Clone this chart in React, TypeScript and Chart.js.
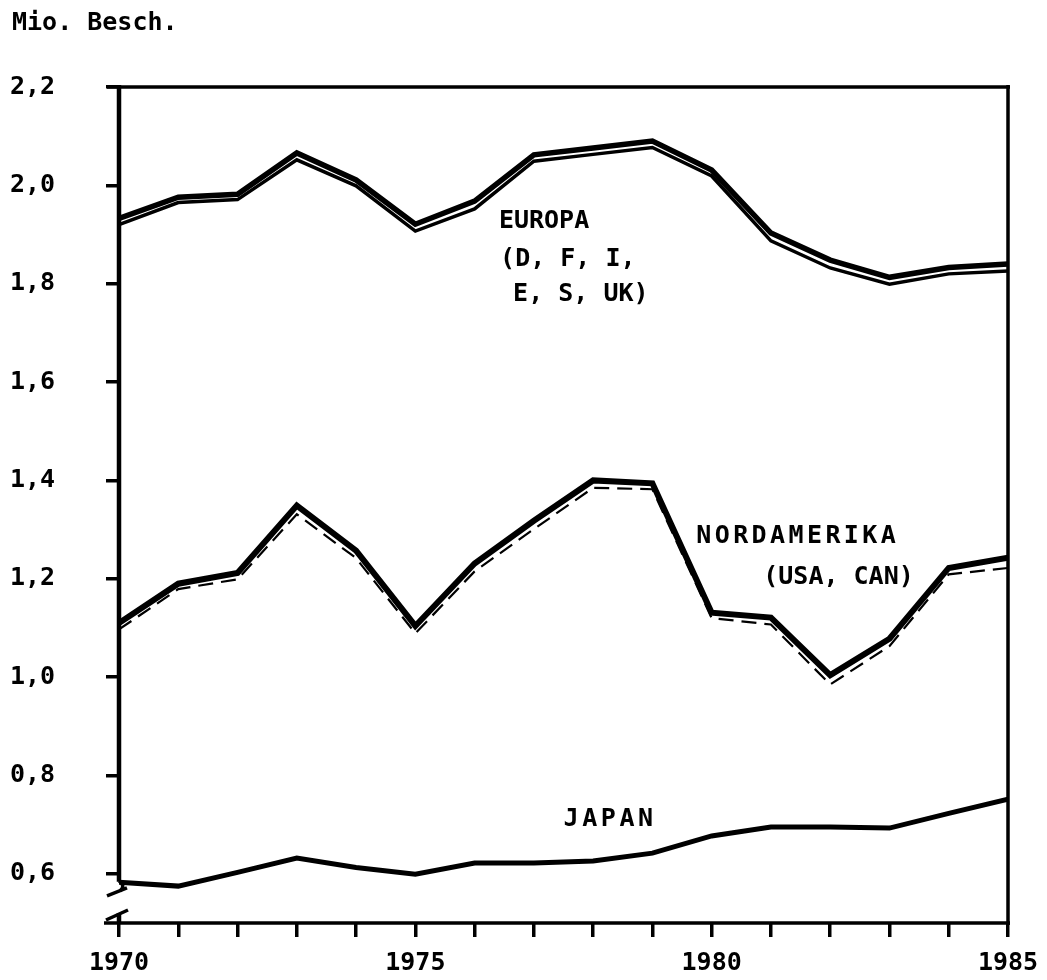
import React, { useEffect, useRef } from "react";
import { Chart, registerables } from "chart.js";

Chart.register(...registerables);

// ---- data ----
const years = [1970, 1971, 1972, 1973, 1974, 1975, 1976, 1977, 1978, 1979, 1980, 1981, 1982, 1983, 1984, 1985];
const europaUpper = [1.933, 1.976, 1.982, 2.066, 2.011, 1.921, 1.968, 2.062, 2.076, 2.09, 2.031, 1.903, 1.848, 1.813, 1.833, 1.84];
const europaLower = [1.92, 1.965, 1.971, 2.052, 1.999, 1.907, 1.952, 2.049, 2.063, 2.077, 2.019, 1.887, 1.832, 1.799, 1.82, 1.826];
const nordamerikaSolid = [1.11, 1.19, 1.212, 1.349, 1.257, 1.104, 1.231, 1.318, 1.4, 1.394, 1.131, 1.121, 1.004, 1.078, 1.222, 1.243];
const nordamerikaDashed = [1.097, 1.179, 1.199, 1.331, 1.242, 1.089, 1.215, 1.301, 1.385, 1.382, 1.12, 1.107, 0.985, 1.063, 1.209, 1.222];
const japan = [0.583, 0.575, 0.603, 0.632, 0.613, 0.599, 0.622, 0.622, 0.626, 0.642, 0.677, 0.695, 0.695, 0.693, 0.723, 0.752];

const yTickValues = [0.6, 0.8, 1.0, 1.2, 1.4, 1.6, 1.8, 2.0, 2.2];
const xLabelYears = [1970, 1975, 1980, 1985];
const yMin = 0.5;
const yMax = 2.2;
const yAxisTitle = "Mio. Besch.";

// text annotations: text, year of left edge, value at baseline, letter spacing
const annotationTexts = ["EUROPA", "(D, F, I,", "E, S, UK)", "NORDAMERIKA", "(USA, CAN)", "JAPAN"];
const annotationYears = [1976.41, 1976.43, 1976.65, 1979.74, 1980.87, 1977.5];
const annotationValues = [1.914, 1.836, 1.765, 1.272, 1.19, 0.697];
const annotationSpacing = [0, 0, 0, 3.4, 0, 3.6];

const FONT = "'DejaVu Sans Mono', 'Liberation Mono', monospace";

const toPts = (vals: number[]) => years.map((x, i) => ({ x, y: vals[i] }));

const decorPlugin = {
  id: "decor",
  afterDraw(chart: any) {
    const { ctx, chartArea } = chart;
    const { left, right, top, bottom } = chartArea;
    const xs = chart.scales.x;
    const ys = chart.scales.y;
    const line = (x1: number, y1: number, x2: number, y2: number) => {
      ctx.beginPath();
      ctx.moveTo(x1, y1);
      ctx.lineTo(x2, y2);
      ctx.stroke();
    };
    ctx.save();
    ctx.strokeStyle = "#000";
    ctx.lineCap = "butt";
    // frame
    ctx.lineWidth = 3.5;
    line(left - 12, top, right + 2, top);
    line(right, top - 2, right, bottom + 2);
    line(left - 15, bottom, right + 2, bottom);
    // left axis with break
    const y06 = ys.getPixelForValue(0.6);
    ctx.lineWidth = 4.5;
    line(left, top - 2, left, y06 + 8);
    ctx.lineWidth = 3.5;
    ctx.beginPath();
    ctx.moveTo(left, y06 + 7);
    ctx.quadraticCurveTo(left + 7, y06 + 12, left + 1, y06 + 17);
    ctx.stroke();
    line(left - 12, y06 + 22, left + 8, y06 + 14);
    line(left - 13, bottom - 3, left + 9, bottom - 13);
    ctx.lineWidth = 4.5;
    line(left, bottom - 10, left, bottom);

    // texts
    ctx.fillStyle = "#000";
    ctx.textBaseline = "alphabetic";
    ctx.textAlign = "left";
    ctx.font = `bold 25px ${FONT}`;
    (ctx as any).letterSpacing = "0px";
    ctx.fillText(yAxisTitle, 12, 30);
    annotationTexts.forEach((t, i) => {
      (ctx as any).letterSpacing = `${annotationSpacing[i]}px`;
      ctx.fillText(t, xs.getPixelForValue(annotationYears[i]), ys.getPixelForValue(annotationValues[i]));
    });
    (ctx as any).letterSpacing = "0px";
    ctx.restore();
  },
};

export default function App() {
  const ref = useRef<HTMLCanvasElement | null>(null);
  useEffect(() => {
    if (!ref.current) return;
    const chart = new Chart(ref.current, {
      type: "line",
      data: {
        datasets: [
          { data: toPts(europaLower), borderColor: "#000", borderWidth: 3.5, pointRadius: 0, tension: 0 },
          { data: toPts(europaUpper), borderColor: "#000", borderWidth: 5.5, pointRadius: 0, tension: 0 },
          { data: toPts(nordamerikaDashed), borderColor: "#000", borderWidth: 2.2, borderDash: [15, 8], pointRadius: 0, tension: 0 },
          { data: toPts(nordamerikaSolid), borderColor: "#000", borderWidth: 6, pointRadius: 0, tension: 0 },
          { data: toPts(japan), borderColor: "#000", borderWidth: 5, pointRadius: 0, tension: 0 },
        ],
      },
      options: {
        animation: false,
        responsive: false,
        devicePixelRatio: 1,
        layout: { padding: { left: 10, top: 87, right: 39, bottom: 0 } },
        plugins: { legend: { display: false }, tooltip: { enabled: false }, title: { display: false } },
        scales: {
          x: {
            type: "linear",
            min: 1970,
            max: 1985,
            border: { display: false },
            grid: { drawOnChartArea: false, drawTicks: true, tickLength: 14, lineWidth: 3.5, color: "#000" },
            ticks: {
              stepSize: 1,
              autoSkip: false,
              maxRotation: 0,
              padding: 11,
              color: "#000",
              font: { family: FONT, size: 25, weight: "bold" },
              callback: (v: any) => (xLabelYears.includes(Number(v)) ? String(v) : ""),
            },
            afterFit: (s: any) => {
              s.height = 57;
              s.paddingLeft = 0;
              s.paddingRight = 0;
            },
          },
          y: {
            type: "linear",
            min: yMin,
            max: yMax,
            border: { display: false },
            grid: { drawOnChartArea: false, drawTicks: true, tickLength: 13, lineWidth: 3.5, color: "#000" },
            afterBuildTicks: (s: any) => {
              s.ticks = yTickValues.map((v) => ({ value: v }));
            },
            ticks: {
              crossAlign: "far",
              autoSkip: false,
              color: "#000",
              font: { family: FONT, size: 25, weight: "bold" },
              callback: (v: any) => Number(v).toFixed(1).replace(".", ","),
            },
            afterFit: (s: any) => {
              s.width = 109;
              s.paddingTop = 0;
              s.paddingBottom = 0;
            },
          },
        },
      } as any,
      plugins: [decorPlugin],
    });
    return () => chart.destroy();
  }, []);
  return (
    <div style={{ position: "absolute", left: 0, top: 0, width: 1047, height: 980, background: "#fff" }}>
      <canvas ref={ref} width={1047} height={980} style={{ display: "block" }} />
    </div>
  );
}
